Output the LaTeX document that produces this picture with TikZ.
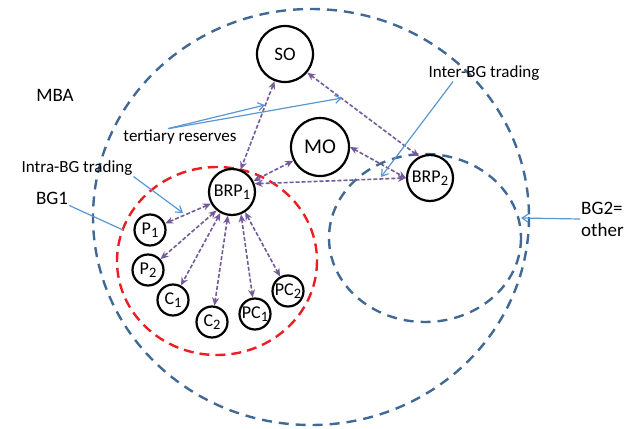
\documentclass[tikz,border=0pt]{standalone}
\usepackage{fontspec}
\setmainfont{Carlito}
\usetikzlibrary{arrows.meta}

\definecolor{mbablue}{RGB}{65,105,150}
\definecolor{bgred}{RGB}{235,30,35}
\definecolor{tradepurple}{RGB}{115,90,155}
\definecolor{noteblue}{RGB}{90,150,210}

\newcommand{\idx}[1]{\raisebox{-0.3ex}{\scalebox{0.8}{#1}}}

\begin{document}
\begin{tikzpicture}[x = 1pt, y = -1pt,
	agent/.style = {draw, circle, line width = 2.2pt, inner sep = 0pt},
	operator/.style = {agent, minimum size = 56pt, font = \fontsize{19}{20}\selectfont},
	party/.style = {agent, minimum size = 46pt, font = \fontsize{18}{20}\selectfont},
	unit/.style = {agent, minimum size = 31pt, font = \fontsize{18}{20}\selectfont},
	trade/.style = {tradepurple, line width = 1.6pt, dash pattern = on 4pt off 2pt,
		{Stealth[length = 8pt, width = 7pt]}-{Stealth[length = 8pt, width = 7pt]}},
	note/.style = {noteblue, line width = 1.2pt},
	pointer/.style = {note, -{Straight Barb[length = 6pt, width = 8pt]}},
	tag/.style = {font = \fontsize{17}{21}\selectfont, inner sep = 1pt},
	bigtag/.style = {font = \fontsize{19}{22}\selectfont, inner sep = 1pt}]
	\useasboundingbox (0,0) rectangle (631,428);

	\draw [mbablue, line width = 2.4pt, dash pattern = on 10pt off 7pt] (311,217) ellipse [x radius = 218, y radius = 208];
	\draw [mbablue, line width = 2.4pt, dash pattern = on 10pt off 7pt] (425,238) ellipse [x radius = 96, y radius = 84];
	\draw [bgred, line width = 2.4pt, dash pattern = on 10pt off 6pt] (217,261) ellipse [x radius = 100, y radius = 94];

	\node [operator] (so) at (285,54) {SO};
	\node [operator, minimum size = 58pt, font = \fontsize{21}{22}\selectfont] (mo) at (320,147) {MO};
	\node [party] (brp1) at (232,192) {BRP\idx{1}};
	\node [party] (brp2) at (430,178) {BRP\idx{2}};

	\node [unit] (p1) at (150,230) {P\idx{1}};
	\node [unit] (p2) at (148,270) {P\idx{2}};
	\node [unit] (c1) at (173,300) {C\idx{1}};
	\node [unit] (c2) at (212,322) {C\idx{2}};
	\node [unit] (pc1) at (255,314) {PC\idx{1}};
	\node [unit] (pc2) at (288,291) {PC\idx{2}};

	\draw [trade] (so) -- (brp1);
	\draw [trade] (so.-40) -- (brp2.117);
	\draw [trade] (mo) -- (brp1);
	\draw [trade] (mo.east) -- (brp2.west);
	\draw [trade] (brp1.20) -- (brp2.west);
	\foreach \child/\ang in {p1/209, p2/230, c1/241, c2/260, pc1/292, pc2/303}{
		\draw [trade] (brp1.\ang) -- (\child);
	}

	\node [bigtag] (mba) at (55,95) {MBA};
	\node [tag] (tert) at (180,137) {tertiary reserves};
	\node [tag] (intra) at (77,168) {Intra-BG trading};
	\node [bigtag] (bg1) at (52,198) {BG1};
	\node [tag] (inter) at (484,73) {Inter-BG trading};
	\node [bigtag, align = left, anchor = west] (bg2) at (580,219) {BG2=\\other};

	\coordinate (reserveso) at (265,105);
	\coordinate (reservesmo) at (342,98);
	\coordinate (intrahead) at (183,213);
	\coordinate (interhead) at (381,177);
	\coordinate (bg1edge) at (123,230);
	\coordinate (bg2edge) at (521,218);

	\draw [pointer] ([xshift = -12pt]tert.north) -- (reserveso);
	\draw [pointer] ([xshift = -11pt]tert.north) -- (reservesmo);
	\draw [pointer] (intra.south east) -- (intrahead);
	\draw [pointer] ([xshift = -31pt]inter.south) -- (interhead);
	\draw [note] (bg1.south east) -- (bg1edge);
	\draw [pointer] (bg2.west) -- (bg2edge);
\end{tikzpicture}
\end{document}
